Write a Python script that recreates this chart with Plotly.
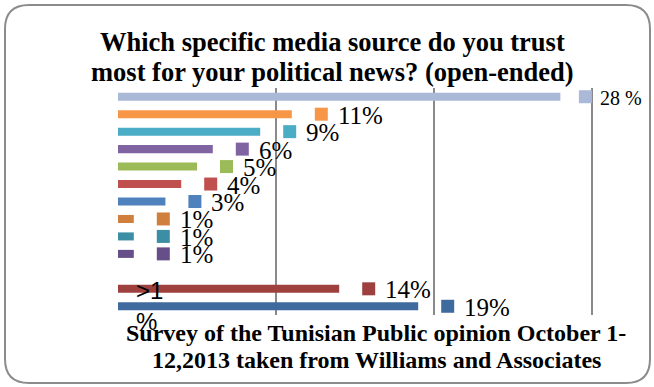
import plotly.graph_objects as go

# ---- data ----
categories = ["S1", "S2", "S3", "S4", "S5", "S6", "S7", "S8", "S9", "S10", "S11", "S12", "S13"]
values = [28, 11, 9, 6, 5, 4, 3, 1, 1, 1, 0, 14, 19]
labels = ["28 %", "11%", "9%", "6%", "5%", "4%", "3%", "1%", "1%", "1%", ">1<br>%", "14%", "19%"]
colors = ["#AAB9D7", "#F79646", "#4BACC6", "#8064A2", "#9BBB59", "#C0504D", "#4F81BD",
          "#D0803C", "#3C8EA5", "#664E88", "#C0504D", "#9E413E", "#3F6A9E"]
grid_ticks = [0, 10, 20, 30]
title_lines = ["Which specific media source do you trust",
               "most for your political news? (open-ended)"]
source_lines = ["Survey of the Tunisian Public opinion October 1-",
                "12,2013 taken from Williams and Associates"]

# ---- layout geometry (pixels) ----
W, H = 654, 387
L, R, T, B = 118, 56, 88, 72
PW = W - L - R
PH = H - T - B
px_per_unit = 474 / 30
XMAX = PW / px_per_unit
SERIF = "Liberation Serif, Times New Roman, serif"


def px(xp):
    return (xp - L) / PW


def py(yp):
    return (H - B - yp) / PH


def mark_off(i):   # px from bar end to legend-key square centre
    return 25 if i == 0 else 29.5


def label_off(i):  # px from bar end to label left edge
    return 38 if i == 0 else 44


fig = go.Figure()
fig.add_trace(go.Bar(
    y=categories, x=values, orientation="h",
    marker=dict(color=colors, line=dict(width=0)),
    hoverinfo="skip", showlegend=False,
))

mk_x, mk_y, mk_c = [], [], []
for i, (c, v, col) in enumerate(zip(categories, values, colors)):
    if v > 0:
        mk_x.append(v + mark_off(i) / px_per_unit)
        mk_y.append(c)
        mk_c.append(col)
fig.add_trace(go.Scatter(
    x=mk_x, y=mk_y, mode="markers",
    marker=dict(symbol="square", size=13, color=mk_c, line=dict(width=0)),
    cliponaxis=False, hoverinfo="skip", showlegend=False,
))

annotations = []
for i, (c, v, lab) in enumerate(zip(categories, values, labels)):
    if v > 0:
        annotations.append(dict(
            x=v, y=c, xref="x", yref="y", text=lab, showarrow=False,
            xanchor="left", yanchor="middle", xshift=label_off(i), yshift=-1,
            font=dict(family=SERIF, size=20 if i == 0 else 25, color="#000000"),
        ))
    else:
        annotations.append(dict(
            x=px(134), y=py(306), xref="paper", yref="paper", text=lab, showarrow=False,
            xanchor="left", yanchor="middle", align="left",
            font=dict(family="Liberation Sans, Arial, sans-serif", size=24, color="#000000"),
        ))

for line, yc in zip(title_lines, [42, 72]):
    annotations.append(dict(
        x=px(332), y=py(yc), xref="paper", yref="paper", text="<b>" + line + "</b>",
        showarrow=False, xanchor="center", yanchor="middle",
        font=dict(family=SERIF, size=26.5, color="#000000"),
    ))
for line, yc in zip(source_lines, [333, 360]):
    annotations.append(dict(
        x=px(376), y=py(yc), xref="paper", yref="paper", text="<b>" + line + "</b>",
        showarrow=False, xanchor="center", yanchor="middle",
        font=dict(family=SERIF, size=24, color="#000000"),
    ))

# rounded frame
x0, x1, y0, y1, r = 5, 650, 5, 383, 24
path = (
    f"M {px(x0 + r)},{py(y0)} L {px(x1 - r)},{py(y0)} "
    f"Q {px(x1)},{py(y0)} {px(x1)},{py(y0 + r)} L {px(x1)},{py(y1 - r)} "
    f"Q {px(x1)},{py(y1)} {px(x1 - r)},{py(y1)} L {px(x0 + r)},{py(y1)} "
    f"Q {px(x0)},{py(y1)} {px(x0)},{py(y1 - r)} L {px(x0)},{py(y0 + r)} "
    f"Q {px(x0)},{py(y0)} {px(x0 + r)},{py(y0)} Z"
)

fig.update_layout(
    width=W, height=H,
    margin=dict(l=L, r=R, t=T, b=B),
    paper_bgcolor="#FFFFFF", plot_bgcolor="#FFFFFF",
    bargap=0.54,
    xaxis=dict(range=[0, XMAX], tickvals=grid_ticks, showgrid=True, gridcolor="#8A8A8A",
               gridwidth=1.5, zeroline=False, showticklabels=False, ticks="", showline=False,
               fixedrange=True),
    yaxis=dict(categoryorder="array", categoryarray=categories,
               range=[len(categories) - 0.5, -0.5], autorange=False,
               showgrid=False, zeroline=False, showticklabels=False, ticks="", showline=False,
               fixedrange=True),
    annotations=annotations,
    shapes=[dict(type="path", path=path, xref="paper", yref="paper",
                 line=dict(color="#8C8C8C", width=2), layer="below")],
    showlegend=False,
)

fig.write_html("out.html", config={"displayModeBar": False},
               post_script="document.body.style.margin='0';")
